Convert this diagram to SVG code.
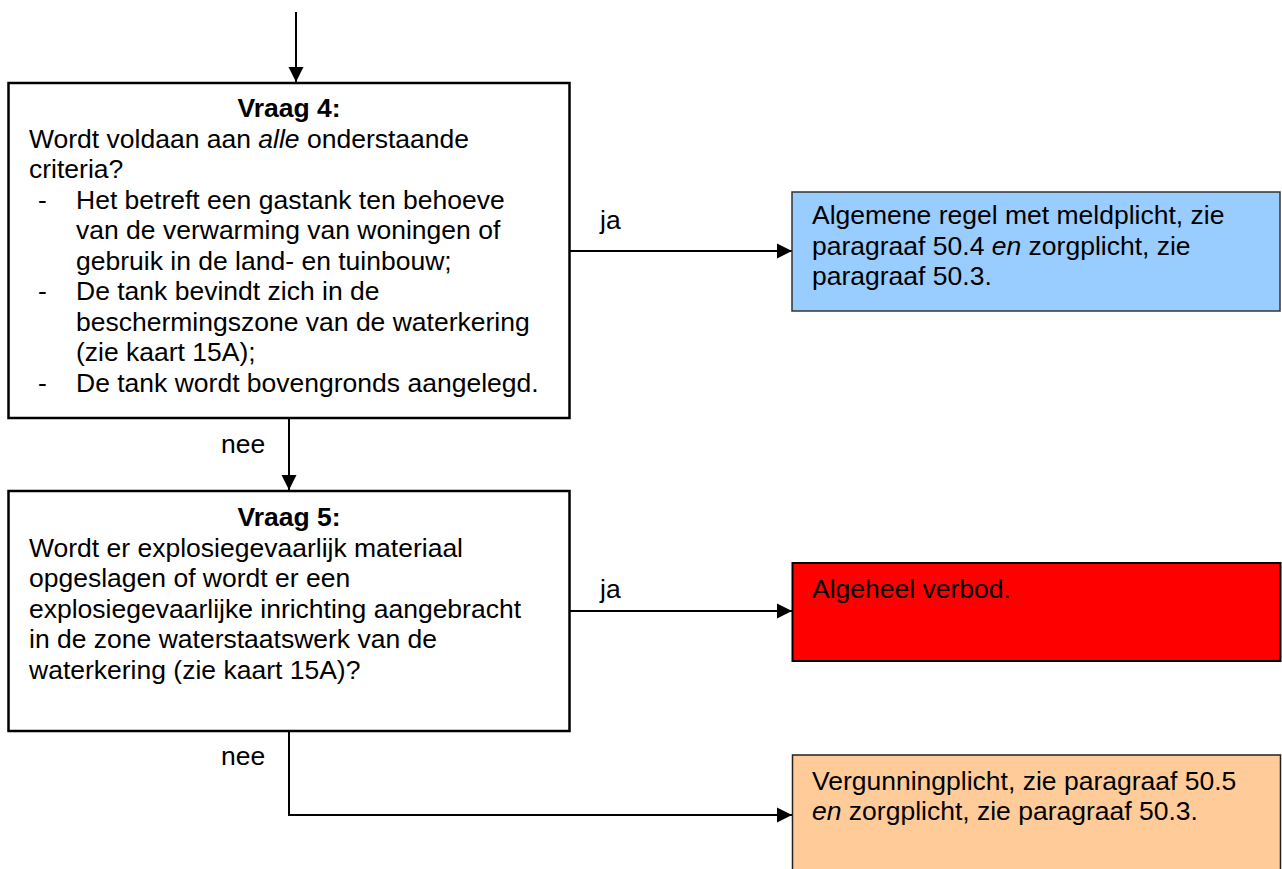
<svg xmlns="http://www.w3.org/2000/svg" width="1282" height="869" viewBox="0 0 1282 869">
  <style>
    text { font-family: "Liberation Sans", Arial, sans-serif; font-size: 26.5px; fill: #000; }
    .b { font-weight: bold; }
    .i { font-style: italic; }
    .q { fill: #fff; stroke: #000; stroke-width: 2.5; }
    .c { fill: none; stroke: #000; stroke-width: 2; }
  </style>
  <defs>
    <marker id="ah" markerUnits="userSpaceOnUse" markerWidth="16" markerHeight="16" viewBox="0 0 16 16" refX="15" refY="8" orient="auto">
      <path d="M0,0.5 L15,8 L0,15.5 Z" fill="#000"/>
    </marker>
  </defs>

  <g id="connectors">
    <line class="c" x1="296" y1="12" x2="296" y2="82" marker-end="url(#ah)"/>
    <line class="c" x1="570" y1="251" x2="792" y2="251" marker-end="url(#ah)"/>
    <line class="c" x1="289" y1="418" x2="289" y2="490" marker-end="url(#ah)"/>
    <line class="c" x1="570" y1="611" x2="792" y2="611" marker-end="url(#ah)"/>
    <polyline class="c" points="289,731 289,815 792,815" marker-end="url(#ah)"/>
    <text x="600" y="229">ja</text>
    <text x="221" y="453">nee</text>
    <text x="600" y="598">ja</text>
    <text x="221" y="765">nee</text>
  </g>

  <g id="vraag4">
    <rect class="q" x="8.5" y="83" width="561" height="335"/>
    <text class="b" x="289" y="117" text-anchor="middle">Vraag 4:</text>
    <text x="29" y="147.5">Wordt voldaan aan <tspan class="i">alle</tspan> onderstaande</text>
    <text x="29" y="178">criteria?</text>
    <text x="38" y="208.5">-</text>
    <text x="76" y="208.5">Het betreft een gastank ten behoeve</text>
    <text x="76" y="239">van de verwarming van woningen of</text>
    <text x="76" y="269.5">gebruik in de land- en tuinbouw;</text>
    <text x="38" y="300">-</text>
    <text x="76" y="300">De tank bevindt zich in de</text>
    <text x="76" y="330.5">beschermingszone van de waterkering</text>
    <text x="76" y="361">(zie kaart 15A);</text>
    <text x="38" y="391.5">-</text>
    <text x="76" y="391.5">De tank wordt bovengronds aangelegd.</text>
  </g>

  <g id="meldplicht">
    <rect x="792" y="192" width="488" height="119" fill="#99CCFF" stroke="#333" stroke-width="1.5"/>
    <text x="812" y="224">Algemene regel met meldplicht, zie</text>
    <text x="812" y="254.5">paragraaf 50.4 <tspan class="i">en</tspan> zorgplicht, zie</text>
    <text x="812" y="285">paragraaf 50.3.</text>
  </g>

  <g id="vraag5">
    <rect class="q" x="8.5" y="491" width="561" height="240"/>
    <text class="b" x="289" y="526" text-anchor="middle">Vraag 5:</text>
    <text x="29" y="556.5">Wordt er explosiegevaarlijk materiaal</text>
    <text x="29" y="587">opgeslagen of wordt er een</text>
    <text x="29" y="617.5">explosiegevaarlijke inrichting aangebracht</text>
    <text x="29" y="648">in de zone waterstaatswerk van de</text>
    <text x="29" y="678.5">waterkering (zie kaart 15A)?</text>
  </g>

  <g id="verbod">
    <rect x="792.5" y="563" width="488" height="98" fill="#FF0000" stroke="#000" stroke-width="2"/>
    <text x="812" y="598">Algeheel verbod.</text>
  </g>

  <g id="vergunning">
    <rect x="792.5" y="755" width="488" height="140" fill="#FFCC99" stroke="#222" stroke-width="1.5"/>
    <text x="812" y="789.5">Vergunningplicht, zie paragraaf 50.5</text>
    <text x="812" y="820"><tspan class="i">en</tspan> zorgplicht, zie paragraaf 50.3.</text>
  </g>
</svg>
